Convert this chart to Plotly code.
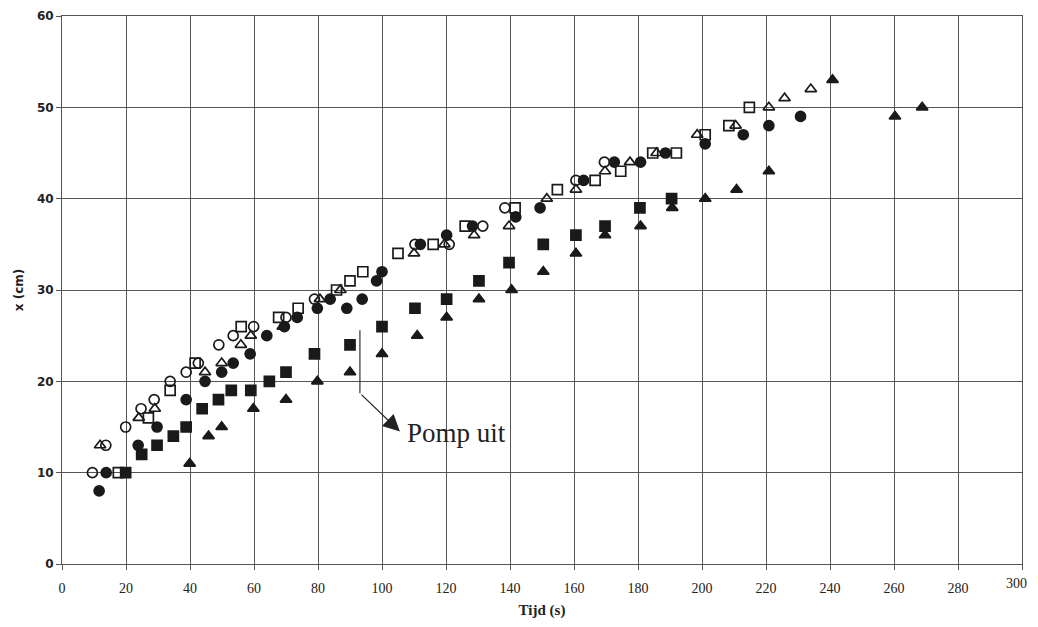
import plotly.graph_objects as go

# Open circles
oc_t = [9.5, 13.7, 19.9, 24.7, 28.8, 33.8, 38.8, 42.6, 49, 53.5, 59.9, 70, 78.9, 110.3, 121, 131.5, 138.4, 160.6, 169.5]
oc_x = [10, 13, 15, 17, 18, 20, 21, 22, 24, 25, 26, 27, 29, 35, 35, 37, 39, 42, 44]

# Filled circles
fc_t = [11.6, 13.8, 23.8, 29.7, 38.8, 44.7, 49.9, 53.5, 58.8, 64, 69.5, 73.5, 79.8, 83.8, 89, 93.8, 98.3, 100,
        112, 120.2, 128.3, 141.8, 149.4, 163, 172.6, 180.8, 188.6, 201, 212.9, 220.9, 230.8]
fc_x = [8, 10, 13, 15, 18, 20, 21, 22, 23, 25, 26, 27, 28, 29, 28, 29, 31, 32,
        35, 36, 37, 38, 39, 42, 44, 44, 45, 46, 47, 48, 49]

# Open squares
os_t = [17.6, 27, 33.8, 41.6, 56, 67.7, 73.8, 85.8, 90, 94, 105, 116, 126, 141.6, 154.8, 166.6, 174.6, 184.6,
        192, 201, 208.4, 214.8]
os_x = [10, 16, 19, 22, 26, 27, 28, 30, 31, 32, 34, 35, 37, 39, 41, 42, 43, 45, 45, 47, 48, 50]

# Filled squares
fs_t = [19.9, 24.9, 29.7, 34.8, 38.8, 43.8, 48.9, 52.9, 59, 64.8, 70, 78.9, 90, 100, 110.3, 120.2, 130.3,
        139.7, 150.4, 160.6, 169.7, 180.6, 190.5]
fs_x = [10, 12, 13, 14, 15, 17, 18, 19, 19, 20, 21, 23, 24, 26, 28, 29, 31, 33, 35, 36, 37, 39, 40]

# Open triangles
ot_t = [11.9, 24, 29, 44.7, 49.9, 55.9, 59, 69, 80.6, 87, 110, 119.5, 128.8, 139.7, 151.5, 160.6, 169.7,
        177.5, 185.8, 198.5, 210.5, 220.9, 225.8, 234]
ot_x = [13, 16, 17, 21, 22, 24, 25, 26, 29, 30, 34, 35, 36, 37, 40, 41, 43, 44, 45, 47, 48, 50, 51, 52]

# Filled triangles
ft_t = [39.9, 45.8, 49.9, 59.8, 70, 79.8, 90, 100, 111, 120.2, 130.3, 140.5, 150.4, 160.6, 169.7, 180.8,
        190.7, 201, 210.8, 220.9, 240.8, 260.3, 268.8]
ft_x = [11, 14, 15, 17, 18, 20, 21, 23, 25, 27, 29, 30, 32, 34, 36, 37, 39, 40, 41, 43, 53, 49, 50]

x_ticks = list(range(0, 301, 20))
y_ticks = list(range(0, 61, 10))
x_max = x_ticks[-1]

# annotation anchor values (data units)
pump_line_t = 93.1
pump_line_top = 25.6
pump_line_bottom = 18.7
pump_tip_t = 105.6
pump_tip_x = 14.5

fig = go.Figure()

def add(t, x, symbol, name):
    fig.add_trace(go.Scatter(
        x=t, y=x, mode="markers", name=name,
        marker=dict(symbol=symbol, size=10, color="#1a1a1a",
                    line=dict(color="#1a1a1a", width=1.7)),
    ))

add(oc_t, oc_x, "circle-open", "oc")
add(fc_t, fc_x, "circle", "fc")
add(os_t, os_x, "square-open", "os")
add(fs_t, fs_x, "square", "fs")
add(ot_t, ot_x, "triangle-up-open", "ot")
add(ft_t, ft_x, "triangle-up", "ft")

fig.add_shape(type="line", x0=pump_line_t, x1=pump_line_t, y0=pump_line_top, y1=pump_line_bottom,
              xref="x", yref="y", line=dict(color="#333", width=1.2))
fig.add_annotation(x=pump_tip_t, y=pump_tip_x, ax=pump_line_t, ay=pump_line_bottom,
                   xref="x", yref="y", axref="x", ayref="y", text="",
                   showarrow=True, arrowhead=2, arrowsize=2.8, arrowwidth=1.2, arrowcolor="#222")
fig.add_annotation(x=107.3, y=14.3, xref="x", yref="y", text="Pomp uit", showarrow=False,
                   xanchor="left", yanchor="middle",
                   font=dict(family="Liberation Serif", size=27, color="#222"))

# last x tick label drawn as text so it stays inside the page edge
fig.add_annotation(x=x_max, y=0, xref="x", yref="y", text=str(x_max), showarrow=False,
                   xanchor="right", yanchor="top", xshift=7, yshift=-10,
                   font=dict(family="Liberation Serif", size=14, color="#222"))

fig.update_layout(
    width=1022, height=611,
    margin=dict(l=54, r=8, t=8, b=55),
    paper_bgcolor="white", plot_bgcolor="white",
    showlegend=False,
    font=dict(family="Liberation Serif", color="#222"),
)
fig.update_xaxes(
    range=[0, 300], tickvals=x_ticks,
    ticktext=[str(v) if v != x_max else "" for v in x_ticks],
    showgrid=True, gridcolor="#555", gridwidth=1,
    showline=True, linecolor="#555", linewidth=1, mirror=True,
    ticks="outside", ticklen=5, tickcolor="#555", ticklabelstandoff=6,
    tickfont=dict(family="Liberation Serif", size=14, color="#222"),
    title=dict(text="<b>Tijd (s)</b>", font=dict(family="Liberation Serif", size=15, color="#222"), standoff=14),
    zeroline=False, automargin=False,
)
fig.update_yaxes(
    range=[0, 60], tickvals=y_ticks, ticktext=[str(v) for v in y_ticks],
    showgrid=True, gridcolor="#555", gridwidth=1,
    showline=True, linecolor="#555", linewidth=1, mirror=True,
    ticks="outside", ticklen=5, tickcolor="#555",
    tickfont=dict(family="DejaVu Sans", size=12, color="#222", weight="bold"),
    title=dict(text="<b>x (cm)</b>", font=dict(family="DejaVu Sans", size=12, color="#222"), standoff=10),
    zeroline=False, automargin=False,
)

fig.write_html("out.html")
